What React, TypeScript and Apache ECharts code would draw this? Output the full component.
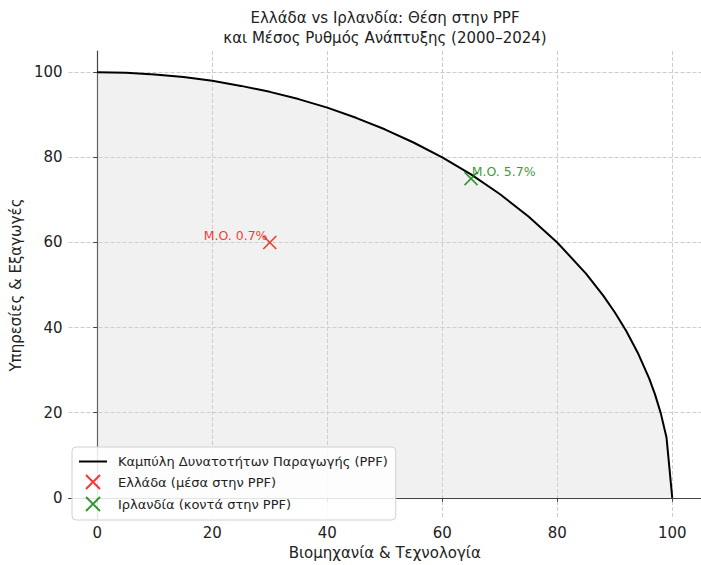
import React, { useEffect, useRef } from "react";
import * as echarts from "echarts";

const TITLE = "Ελλάδα vs Ιρλανδία: Θέση στην PPF\nκαι Μέσος Ρυθμός Ανάπτυξης (2000–2024)";
const X_NAME = "Βιομηχανία & Τεχνολογία";
const Y_NAME = "Υπηρεσίες & Εξαγωγές";
const PPF_NAME = "Καμπύλη Δυνατοτήτων Παραγωγής (PPF)";
const GR_NAME = "Ελλάδα (μέσα στην PPF)";
const IE_NAME = "Ιρλανδία (κοντά στην PPF)";

const ppfX = [0, 5, 10, 15, 20, 25, 30, 35, 40, 45, 50, 55, 60, 65, 70, 75, 80, 85, 88, 90, 92, 94, 96, 97, 98, 99, 100];
const ppfY = [100, 99.9, 99.5, 98.9, 98.0, 96.8, 95.4, 93.7, 91.7, 89.3, 86.6, 83.5, 80.0, 76.0, 71.4, 66.1, 60.0, 52.7, 47.5, 43.6, 39.2, 34.1, 28.0, 24.3, 19.9, 14.2, 0];

const greece = { x: 30, y: 60, label: "M.O. 0.7%" };
const ireland = { x: 65, y: 75, label: "M.O. 5.7%" };

const tickValues = [0, 20, 40, 60, 80, 100];

const FONT = "DejaVu Sans";
const X_PATH = "path://M0,0L10,10M10,0L0,10";

export default function App() {
  const ref = useRef<HTMLDivElement>(null);
  useEffect(() => {
    if (!ref.current) return;
    const chart = echarts.init(ref.current, undefined, { renderer: "svg" });
    const axisCommon = {
      type: "value" as const,
      min: -5,
      max: 105,
      nameLocation: "middle" as const,
      nameTextStyle: { fontFamily: FONT, fontSize: 15, color: "#222" },
      axisLine: { show: true, lineStyle: { color: "#444", width: 1.2 } },
      axisTick: { show: true, length: 4, customValues: tickValues, lineStyle: { color: "#444" } },
      axisLabel: { customValues: tickValues, fontFamily: FONT, fontSize: 15, color: "#222", margin: 6 },
      splitLine: { show: true, lineStyle: { color: "#cccccc", type: [4, 2], width: 1 } },
    };
    chart.setOption({
      animation: false,
      backgroundColor: "#ffffff",
      title: {
        text: TITLE,
        left: 380,
        top: 3,
        textAlign: "center",
        textStyle: { fontFamily: FONT, fontSize: 15, fontWeight: "normal", color: "#222", lineHeight: 20 },
      },
      grid: { left: 67, top: 51, width: 636, height: 469, containLabel: false },
      xAxis: { ...axisCommon, name: X_NAME, nameGap: 25 },
      yAxis: { ...axisCommon, name: Y_NAME, nameGap: 43 },
      legend: {
        orient: "vertical",
        left: 72,
        top: 447,
        padding: [8, 8, 8, 6],
        itemGap: 6,
        itemWidth: 28,
        itemHeight: 14,
        backgroundColor: "rgba(255,255,255,0.85)",
        borderColor: "#d0d0d0",
        borderWidth: 1,
        borderRadius: 4,
        textStyle: { fontFamily: FONT, fontSize: 13, color: "#222", padding: [0, 0, 0, 6] },
        data: [
          {
            name: PPF_NAME,
            itemStyle: { color: "rgba(0,0,0,0)", borderColor: "rgba(0,0,0,0)", borderWidth: 0, opacity: 0 },
          },
          GR_NAME,
          IE_NAME,
        ],
      },
      series: [
        {
          name: PPF_NAME,
          type: "line",
          data: ppfX.map((x, i) => [x, ppfY[i]]),
          showSymbol: false,
          symbol: "none",
          smooth: false,
          lineStyle: { color: "#000", width: 2 },
          itemStyle: { color: "#000" },
          areaStyle: { color: "rgba(211,211,211,0.45)", origin: 0 },
          z: 2,
        },
        {
          name: GR_NAME,
          type: "scatter",
          data: [[greece.x, greece.y]],
          symbol: X_PATH,
          symbolSize: 13,
          symbolKeepAspect: true,
          itemStyle: { color: "red", borderColor: "red", borderWidth: 1.6 },
          label: {
            show: true,
            formatter: greece.label,
            position: [5, 7],
            align: "right",
            verticalAlign: "bottom",
            color: "red",
            fontFamily: FONT,
            fontSize: 12.5,
          },
          z: 3,
        },
        {
          name: IE_NAME,
          type: "scatter",
          data: [[ireland.x, ireland.y]],
          symbol: X_PATH,
          symbolSize: 13,
          symbolKeepAspect: true,
          itemStyle: { color: "green", borderColor: "green", borderWidth: 1.6 },
          label: {
            show: true,
            formatter: ireland.label,
            position: [8, 7],
            align: "left",
            verticalAlign: "bottom",
            color: "green",
            fontFamily: FONT,
            fontSize: 12.5,
          },
          z: 3,
        },
      ],
    });
    return () => chart.dispose();
  }, []);
  return <div ref={ref} style={{ position: "fixed", left: 0, top: 0, width: 701, height: 565 }} />;
}
